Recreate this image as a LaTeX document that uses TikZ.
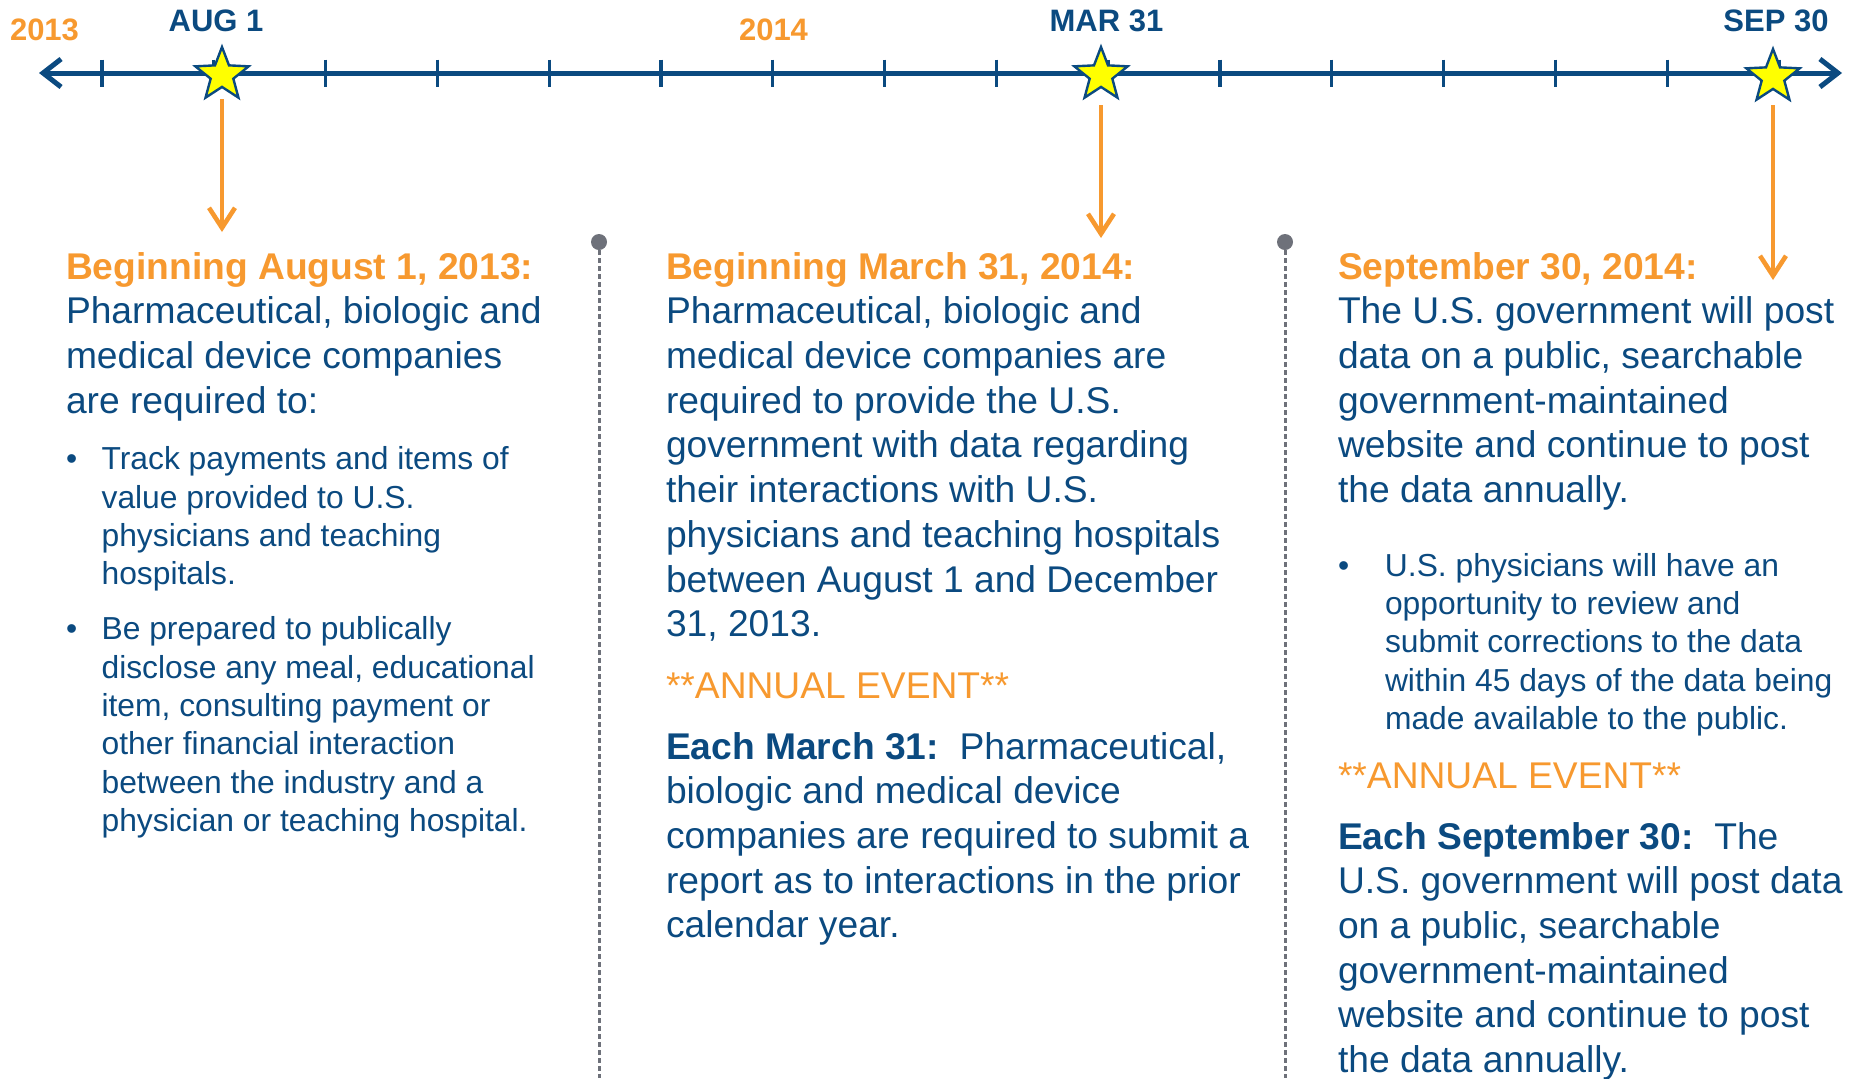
\documentclass[tikz,border=0pt]{standalone}
\usepackage{fontspec}
\setmainfont{Liberation Sans}
\usetikzlibrary{arrows.meta,shapes.geometric}
\definecolor{tblue}{HTML}{0B4A80}
\definecolor{torange}{HTML}{F7992F}
\definecolor{tgrey}{HTML}{6E717A}
\definecolor{tyellow}{HTML}{FFFF00}
\newcommand{\mainsz}{\fontsize{18.6pt}{22.37pt}\selectfont}
\newcommand{\bulsz}{\fontsize{15.9pt}{19.2pt}\selectfont}
\newcommand{\labsz}{\fontsize{15.5pt}{18pt}\selectfont\bfseries}
\begin{document}
\begin{tikzpicture}[x=0.5pt,y=-0.5pt,
  txt/.style={anchor=base west, inner sep=0pt, outer sep=0pt, text=tblue},
  datelab/.style={anchor=base, inner sep=0pt, text=tblue, font=\labsz},
  yearlab/.style={anchor=base, inner sep=0pt, text=torange, font=\labsz},
  timeline/.style={draw=tblue, line width=2.5pt, {Straight Barb[length=9pt,width=14pt]}-{Straight Barb[length=9pt,width=14pt]}},
  tickmark/.style={draw=tblue, line width=1.6pt},
  starmark/.style={star, star points=5, star point ratio=2.35, minimum size=28pt, inner sep=0pt, fill=tyellow, draw=tblue, line width=1.2pt},
  pointer/.style={draw=torange, line width=2.3pt, -{Straight Barb[length=10pt,width=13pt]}},
  sepline/.style={draw=tgrey, line width=1.5pt, dash pattern=on 2.6pt off 1.4pt},
  sepdot/.style={circle, fill=tgrey, inner sep=0pt, minimum size=8pt},
]
\useasboundingbox (0,0) rectangle (1852,1078);

% timeline
\coordinate (tlL) at (39,73);
\coordinate (tlR) at (1842,73);
\draw[timeline] (tlL) -- (tlR);
\foreach \i in {0,...,15} \draw[tickmark] ({102+111.8*\i},59.5) -- ++(0,27);

\node[starmark] (staraug) at (222,75) {};
\node[starmark] (starmar) at (1101,75) {};
\node[starmark] (starsep) at (1773,77) {};

\node[yearlab] (y2013) at (44.5,40.7) {2013};
\node[datelab] (laug) at (216,31.7) {AUG 1};
\node[yearlab] (y2014) at (773.5,40.7) {2014};
\node[datelab] (lmar) at (1106.5,31.7) {MAR 31};
\node[datelab] (lsep) at (1776,31.7) {SEP 30};

% pointers
\coordinate (augA) at (222,99);   \coordinate (augB) at (222,232);
\coordinate (marA) at (1101,105); \coordinate (marB) at (1101,238);
\coordinate (sepA) at (1773,105); \coordinate (sepB) at (1773,280);
\draw[pointer] (augA) -- (augB);
\draw[pointer] (marA) -- (marB);
\draw[pointer] (sepA) -- (sepB);

% separators
\coordinate (dotpos1) at (599,242);
\coordinate (dotpos2) at (1285,242);
\coordinate (sep1end) at (599,1078);
\coordinate (sep2end) at (1285,1078);
\draw[sepline] (dotpos1) -- (sep1end);
\draw[sepline] (dotpos2) -- (sep2end);
\node[sepdot] (dot1) at (dotpos1) {};
\node[sepdot] (dot2) at (dotpos2) {};

% column 1
\node[txt] (c1a) at (66,279) {\parbox[t]{330pt}{\mainsz\textcolor{torange}{\bfseries Beginning August 1, 2013:}\\Pharmaceutical, biologic and\\medical device companies\\are required to:}};
\node[txt] (c1b1) at (66,469.6) {\parbox[t]{330pt}{\bulsz\hangindent=17.8pt\hangafter=1\noindent\makebox[17.8pt][l]{•}Track payments and items of\\value provided to U.S.\\physicians and teaching\\hospitals.}};
\node[txt] (c1b2) at (66,639.6) {\parbox[t]{330pt}{\bulsz\hangindent=17.8pt\hangafter=1\noindent\makebox[17.8pt][l]{•}Be prepared to publically\\disclose any meal, educational\\item, consulting payment or\\other financial interaction\\between the industry and a\\physician or teaching hospital.}};

% column 2
\node[txt] (c2a) at (666,279) {\parbox[t]{330pt}{\mainsz\textcolor{torange}{\bfseries Beginning March 31, 2014:}\\Pharmaceutical, biologic and\\medical device companies are\\required to provide the U.S.\\government with data regarding\\their interactions with U.S.\\physicians and teaching hospitals\\between August 1 and December\\31, 2013.}};
\node[txt, text=torange, font=\mainsz] (c2ann) at (666,698) {**ANNUAL EVENT**};
\node[txt] (c2b) at (666,759) {\parbox[t]{330pt}{\mainsz\textbf{Each March 31:}\ \ Pharmaceutical,\\biologic and medical device\\companies are required to submit a\\report as to interactions in the prior\\calendar year.}};

% column 3
\node[txt] (c3a) at (1338,279) {\parbox[t]{330pt}{\mainsz\textcolor{torange}{\bfseries September 30, 2014:}\\The U.S. government will post\\data on a public, searchable\\government-maintained\\website and continue to post\\the data annually.}};
\node[txt] (c3b1) at (1338,576) {\parbox[t]{330pt}{\bulsz\hangindent=23.5pt\hangafter=1\noindent\makebox[23.5pt][l]{•}U.S. physicians will have an\\opportunity to review and\\submit corrections to the data\\within 45 days of the data being\\made available to the public.}};
\node[txt, text=torange, font=\mainsz] (c3ann) at (1338,788) {**ANNUAL EVENT**};
\node[txt] (c3b) at (1338,849) {\parbox[t]{330pt}{\mainsz\textbf{Each September 30:}\ \ The\\U.S. government will post data\\on a public, searchable\\government-maintained\\website and continue to post\\the data annually.}};
\end{tikzpicture}
\end{document}
